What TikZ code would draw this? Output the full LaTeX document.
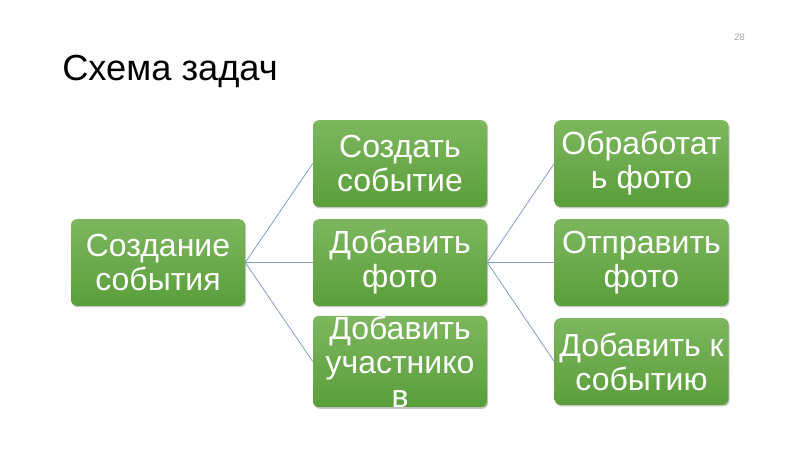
\documentclass[tikz,border=0pt]{standalone}
\usepackage{fontspec}
\setmainfont{Liberation Sans}
\usetikzlibrary{shadows}
\definecolor{gtop}{HTML}{7DB75E}
\definecolor{gbot}{HTML}{5A9E3B}
\definecolor{linkc}{HTML}{7F9FC7}
\tikzset{
  gbox/.style={rounded corners=4.5pt, top color=gtop, bottom color=gbot, draw=none,
    minimum width=130.5pt, minimum height=65pt, inner sep=0pt, text=white, align=center,
    font=\fontsize{24pt}{25.5pt}\selectfont,
    drop shadow={shadow xshift=0.8pt, shadow yshift=-1.2pt, fill=black, opacity=0.22}},
  link/.style={draw=linkc, line width=0.6pt},
}
\begin{document}
\begin{tikzpicture}[x=0.75pt, y=-0.75pt]
\useasboundingbox (0,0) rectangle (800,450);
\node[anchor=base west, inner sep=0pt, font=\fontsize{27.2pt}{30pt}\selectfont] (title) at (62,80) {Схема задач};
\node[anchor=base east, inner sep=0pt, text=gray!70, font=\fontsize{7pt}{8pt}\selectfont] (pnum) at (745,40) {28};

\node[gbox] (root) at (158,262.5) {Создание\\события};
\node[gbox] (c1) at (400,163.5) {Создать\\событие};
\node[gbox] (c2) at (400,262.5) {Добавить\\фото};
\node[gbox] (c3) at (400,361.5) {Добавить\\участнико\\в};
\node[gbox] (d1) at (641.5,163.5) {Обработат\\ь фото};
\node[gbox] (d2) at (641.5,262.5) {Отправить\\фото};
\node[gbox] (d3) at (641.5,361.5) {Добавить к\\событию};

\draw[link] (root.east) -- (c1.west);
\draw[link] (root.east) -- (c2.west);
\draw[link] (root.east) -- (c3.west);
\draw[link] (c2.east) -- (d1.west);
\draw[link] (c2.east) -- (d2.west);
\draw[link] (c2.east) -- (d3.west);
\end{tikzpicture}
\end{document}
